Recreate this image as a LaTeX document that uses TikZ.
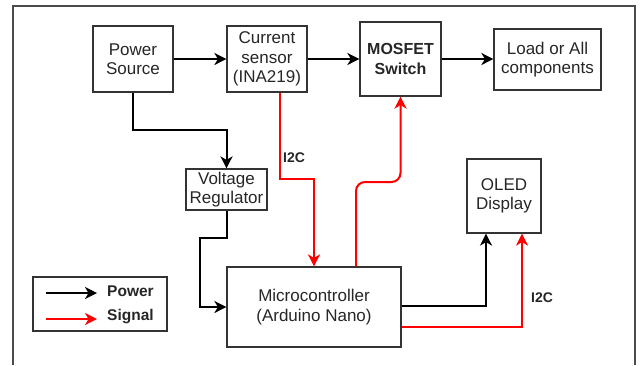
\documentclass[tikz,border=0pt]{standalone}
\usepackage{fontspec}
\setmainfont{Liberation Sans}
\usetikzlibrary{arrows.meta}
\begin{document}
\begin{tikzpicture}[x=1pt,y=-1pt,
  boxst/.style={draw=black!80,line width=1.2pt,fill=white,inner sep=0pt,align=center,
    font=\fontsize{17}{19.5}\selectfont,text=black!85},
  pw/.style={draw=black,line width=2pt,-{Stealth[length=12pt,width=12pt,inset=3.5pt]}},
  sig/.style={draw=red,line width=2pt,-{Stealth[length=12pt,width=12pt,inset=3.5pt]}},
  lbl/.style={font=\bfseries\fontsize{14}{16}\selectfont,text=black!85,inner sep=0pt}]
\useasboundingbox (0,0) rectangle (642,365);
\draw[black!70,line width=1.5pt] (13,365) -- (13,6) -- (635,6) -- (635,365);
% nodes
\node[boxst,minimum width=80pt,minimum height=66pt] (ps) at (133,59) {Power\\Source};
\node[boxst,minimum width=80pt,minimum height=66pt] (cs) at (267,59) {Current\\sensor\\(INA219)};
\node[boxst,minimum width=81pt,minimum height=74pt,font=\bfseries\fontsize{16}{19.5}\selectfont] (mos) at (400.5,59) {MOSFET\\Switch};
\node[boxst,minimum width=107pt,minimum height=61pt] (load) at (547.5,59.5) {Load or All\\components};
\node[boxst,minimum width=81pt,minimum height=41pt] (vr) at (226.5,189.5) {Voltage\\Regulator};
\node[boxst,minimum width=174pt,minimum height=80pt] (mc) at (314,307) {Microcontroller\\(Arduino Nano)};
\node[boxst,minimum width=74pt,minimum height=74pt] (oled) at (504,196) {OLED\\Display};
\node[draw=black!80,line width=1.2pt,minimum width=134pt,minimum height=54pt,inner sep=0pt] (leg) at (100,304) {};
% connectors
\draw[pw] (ps) -- (cs);
\draw[pw] (cs) -- (mos);
\draw[pw] (mos.east) -- (mos.east -| load.west);
\draw[pw] (ps.south) -- (ps.south |- 0,130) -| (vr.north);
\draw[sig] (cs.south -| 280,0) -- (280,179) -| (mc.north);
\draw[pw] (vr.south) |- (200,238) |- (mc.west);
\draw[sig,rounded corners=9pt] (mc.north -| 356,0) -- (356,182) -- (400.5,182) -- (mos.south);
\draw[pw] (mc.east |- 0,306) -| (oled.south -| 486,0);
\draw[sig] (mc.east |- 0,327) -| (oled.south -| 522,0);
\node[lbl] (l1) at (294,158) {I2C};
\node[lbl] (l2) at (542,298) {I2C};
% legend
\coordinate (a1) at (46,293);
\coordinate (b1) at (97,293);
\coordinate (a2) at (46,319);
\coordinate (b2) at (97,319);
\draw[pw] (a1) -- (b1);
\draw[sig] (a2) -- (b2);
\node[lbl,font=\bfseries\fontsize{15.5}{18}\selectfont,anchor=west] (tp) at (107,291) {Power};
\node[lbl,font=\bfseries\fontsize{15.5}{18}\selectfont,anchor=west] (ts) at (107,317) {Signal};
\end{tikzpicture}
\end{document}
